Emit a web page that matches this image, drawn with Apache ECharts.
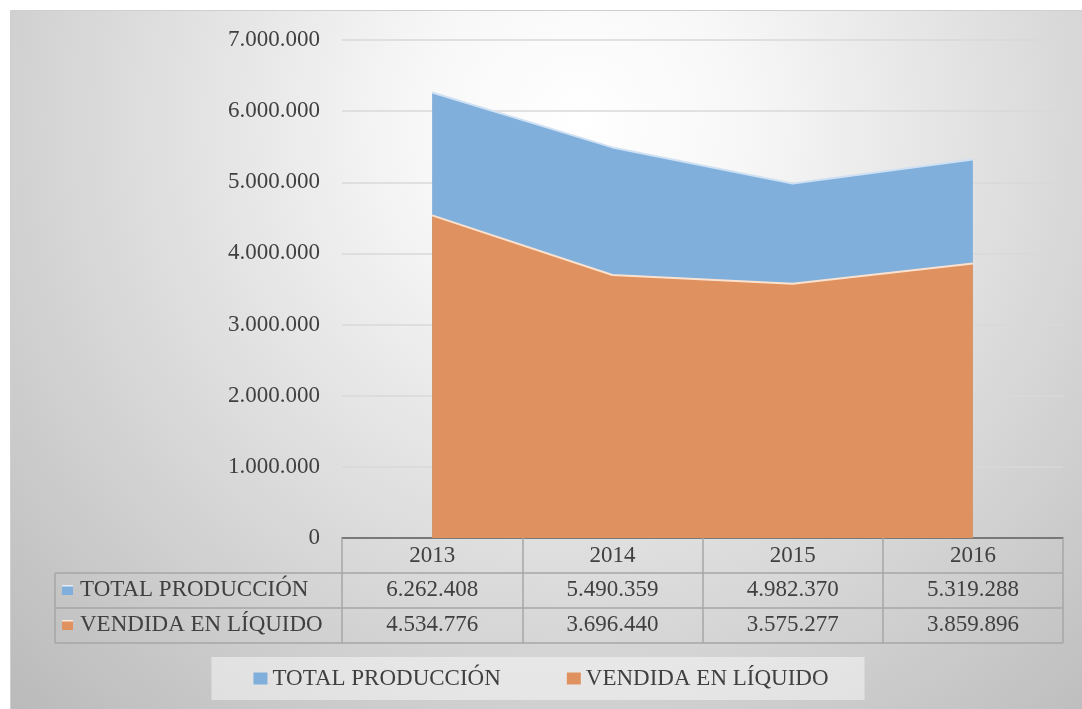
<!DOCTYPE html>
<html>
<head>
<meta charset="utf-8">
<script src="https://cdn.jsdelivr.net/npm/echarts@6/dist/echarts.min.js"></script>
<style>
html, body { margin: 0; padding: 0; background: #fff; }
#chart { width: 1082px; height: 709px; }
</style>
</head>
<body>
<div id="chart"></div>
<script>
// data
var years = ['2013', '2014', '2015', '2016'];
var totalProduccion = [6262408, 5490359, 4982370, 5319288];
var vendidaLiquido = [4534776, 3696440, 3575277, 3859896];
var seriesNames = ['TOTAL PRODUCCIÓN', 'VENDIDA EN LÍQUIDO'];
var yMin = 0, yMax = 7000000, yStep = 1000000;

var FONT = "'Liberation Serif', 'Times New Roman', serif";
var TXT = '#404040';
var BLUE = '#80afdc';
var ORANGE = '#df9260';
var TABLE_LINE = '#a6a6a6';

function fmt(v) {
    return String(v).replace(/\B(?=(\d{3})+(?!\d))/g, '.');
}

var chart = echarts.init(document.getElementById('chart'));

// table rows drawn as extra category axes sharing the grid
function rowAxis(values, margin) {
    return {
        type: 'category',
        data: years,
        position: 'bottom',
        axisLine: { show: false },
        axisTick: { show: false },
        splitLine: { show: false },
        axisLabel: {
            interval: 0,
            margin: margin,
            verticalAlign: 'middle',
            color: TXT,
            fontFamily: FONT,
            fontSize: 23,
            formatter: function (val, idx) { return fmt(values[idx]); }
        }
    };
}

var tableLines = [];
[573, 608, 643].forEach(function (y) {
    tableLines.push({
        type: 'line', z: 10,
        shape: { x1: 55, y1: y, x2: 1063, y2: y },
        style: { stroke: TABLE_LINE, lineWidth: 1.5 }
    });
});
tableLines.push({
    type: 'line', z: 10,
    shape: { x1: 55, y1: 573, x2: 55, y2: 643 },
    style: { stroke: TABLE_LINE, lineWidth: 1.5 }
});

var rowColors = [BLUE, ORANGE];
var rowLabels = [];
seriesNames.forEach(function (name, i) {
    var cy = 590 + i * 35;
    rowLabels.push({
        type: 'rect', z: 10,
        shape: { x: 62, y: cy - 5, width: 11, height: 10 },
        style: {
            fill: new echarts.graphic.LinearGradient(0, 0, 0, 1, [
                { offset: 0, color: '#ffffff' },
                { offset: 0.25, color: rowColors[i] },
                { offset: 1, color: rowColors[i] }
            ])
        }
    });
    rowLabels.push({
        type: 'text', z: 10,
        x: 80, y: cy,
        style: {
            text: name, fill: TXT, font: '23px ' + FONT,
            textVerticalAlign: 'middle', verticalAlign: 'middle'
        }
    });
});

chart.setOption({
    animation: false,
    color: [BLUE, ORANGE],
    graphic: [
        {
            type: 'rect', z: -100,
            shape: { x: 10.5, y: 10.5, width: 1100, height: 720 },
            style: {
                fill: new echarts.graphic.RadialGradient(580, 120, 830, [
                    { offset: 0, color: '#ffffff' },
                    { offset: 0.2, color: '#f7f7f7' },
                    { offset: 1, color: '#b9b9b9' }
                ], true),
                stroke: '#cfcfcf', lineWidth: 1
            }
        }
    ].concat(tableLines, rowLabels),
    grid: { left: 342, right: 19, top: 40, bottom: 171 },
    legend: {
        data: seriesNames,
        left: 'center',
        top: 657,
        padding: [10, 36, 10, 42],
        backgroundColor: 'rgba(255,255,255,0.45)',
        itemGap: 66,
        itemWidth: 14,
        itemHeight: 12,
        icon: 'rect',
        textStyle: { color: TXT, fontFamily: FONT, fontSize: 23 }
    },
    xAxis: [
        {
            type: 'category',
            data: years,
            position: 'bottom',
            axisLine: { lineStyle: { color: '#595959', width: 1.5 } },
            axisTick: { show: true, interval: 0, length: 105, lineStyle: { color: TABLE_LINE, width: 1.5 } },
            axisLabel: {
                interval: 0, margin: 18, verticalAlign: 'middle',
                color: TXT, fontFamily: FONT, fontSize: 23
            }
        },
        rowAxis(totalProduccion, 52),
        rowAxis(vendidaLiquido, 87)
    ],
    yAxis: {
        type: 'value',
        min: yMin,
        max: yMax,
        interval: yStep,
        axisLine: { show: false },
        axisTick: { show: false },
        splitLine: { lineStyle: { color: '#d9d9d9', width: 1.5 } },
        axisLabel: {
            margin: 22,
            color: TXT, fontFamily: FONT, fontSize: 23,
            formatter: function (v) { return fmt(v); }
        }
    },
    series: [
        {
            name: seriesNames[0],
            type: 'line',
            data: totalProduccion,
            showSymbol: false,
            lineStyle: { color: '#cfe1f3', width: 2 },
            areaStyle: { color: BLUE, opacity: 1 },
            z: 2
        },
        {
            name: seriesNames[1],
            type: 'line',
            data: vendidaLiquido,
            showSymbol: false,
            lineStyle: { color: '#fbe2cf', width: 2 },
            areaStyle: { color: ORANGE, opacity: 1 },
            z: 3
        }
    ]
});
</script>
</body>
</html>
